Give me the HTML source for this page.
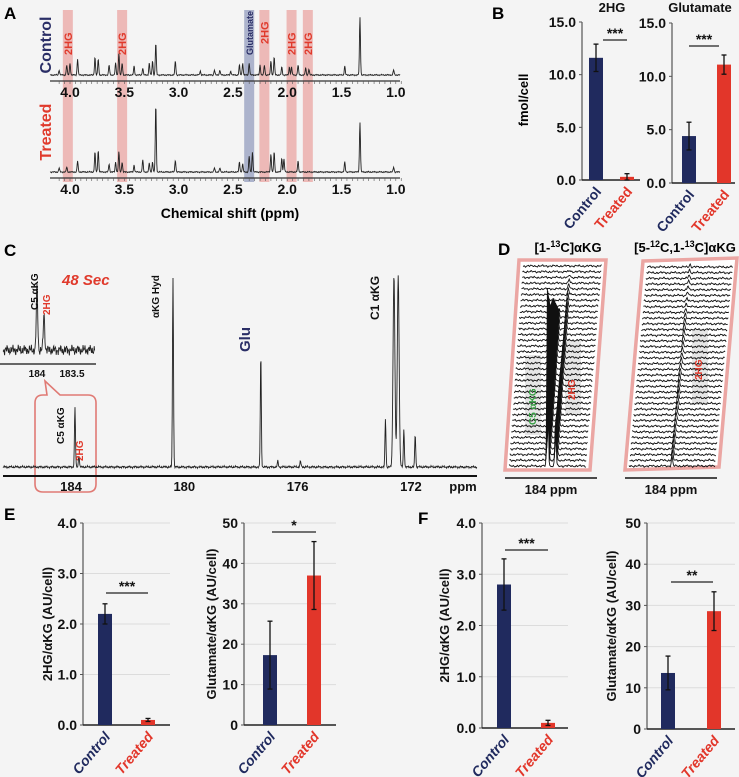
<!DOCTYPE html>
<html><head><meta charset="utf-8"><style>
body{margin:0;background:#f4f4f4}
svg{display:block;font-family:"Liberation Sans",sans-serif;font-weight:bold}
.t{font-size:13px;fill:#111}
</style></head><body>
<svg id="fig" width="739" height="777" viewBox="0 0 739 777">
<rect width="739" height="777" fill="#f4f4f4"/>
<g id="panelA">
 <text x="4" y="19" font-size="17">A</text>
 <g id="bandsA"></g>
 <text transform="translate(51,45) rotate(-90)" text-anchor="middle" font-size="16" fill="#2a2e66">Control</text>
 <text transform="translate(51,132) rotate(-90)" text-anchor="middle" font-size="16" fill="#e03a2c">Treated</text>
 <g id="specA"></g>
 <text x="230" y="218" text-anchor="middle" font-size="14">Chemical shift (ppm)</text>
</g>
<g id="panelB">
 <text x="492" y="19" font-size="17">B</text>
 <text transform="translate(528,100) rotate(-90)" text-anchor="middle" font-size="13">fmol/cell</text>
</g>
<g id="panelC">
 <text x="4" y="256" font-size="17">C</text>
 <text x="62" y="285" font-size="15" font-style="italic" fill="#e03a2c">48 Sec</text>
 <path d="M45,381 L60,395 L88,395 Q96,395 96,403 L96,484 Q96,492 88,492 L43,492 Q35,492 35,484 L35,403 Q35,395 43,395 L47,395 Z" fill="none" stroke="#e07a74" stroke-width="1.6"/>
 <g id="specC"></g>
</g>
<g id="panelD">
 <text x="498" y="255" font-size="17">D</text>
 <text x="568" y="252" text-anchor="middle" font-size="13">[1-<tspan font-size="9" dy="-5">13</tspan><tspan dy="5">C]αKG</tspan></text>
 <text x="685" y="252" text-anchor="middle" font-size="13">[5-<tspan font-size="9" dy="-5">12</tspan><tspan dy="5">C,1-</tspan><tspan font-size="9" dy="-5">13</tspan><tspan dy="5">C]αKG</tspan></text>
 <g id="specD"></g>
 <line x1="505" y1="478" x2="597" y2="478" stroke="#111" stroke-width="1.5"/>
 <line x1="625" y1="478" x2="717" y2="478" stroke="#111" stroke-width="1.5"/>
 <text x="551" y="494" text-anchor="middle" class="t">184 ppm</text>
 <text x="671" y="494" text-anchor="middle" class="t">184 ppm</text>
</g>
<text x="4" y="520" font-size="17">E</text>
<text x="418" y="524" font-size="17">F</text>
<g id="bars"></g>
</svg>
<script>
// ---- bar chart data ----
const bCategories=["Control","Treated"];
const b2hgValues=[11.6,0.3], b2hgErr=[1.3,0.3];
const bGluValues=[4.4,11.1], bGluErr=[1.3,0.9];
const bTicks=[0,5,10,15];
const e2hgValues=[2.2,0.1], e2hgErr=[0.2,0.03];
const eGluValues=[17.3,37.0], eGluErr=[8.4,8.4];
const f2hgValues=[2.8,0.1], f2hgErr=[0.5,0.05];
const fGluValues=[13.6,28.6], fGluErr=[4.1,4.7];
const ratioTicks=[0,1,2,3,4];
const gluTicks=[0,10,20,30,40,50];
// spectra peak lists [ppm, height]
const ctrlPeaks=[[4.1,5],[4.03,10],[4.0,12],[3.93,16],[3.77,18],[3.74,16],[3.64,10],[3.58,12],[3.55,22],[3.52,12],[3.41,9],[3.33,7],[3.27,12],[3.24,14],[3.21,32],[3.03,14],[2.8,4],[2.67,5],[2.62,5],[2.52,4],[2.44,10],[2.41,12],[2.35,12],[2.25,10],[2.21,10],[2.15,14],[2.12,18],[2.05,8],[1.98,8],[1.96,8],[1.9,10],[1.83,7],[1.8,6],[1.47,9],[1.33,58],[1.02,5]];
const trtPeaks=[[4.1,4],[4.03,5],[3.93,11],[3.77,20],[3.74,22],[3.64,8],[3.58,10],[3.55,20],[3.52,10],[3.41,7],[3.33,12],[3.27,9],[3.24,10],[3.21,68],[3.03,12],[2.67,4],[2.62,4],[2.44,10],[2.41,8],[2.35,16],[2.32,20],[2.15,18],[2.12,20],[2.05,14],[2.03,13],[1.9,11],[1.47,10],[1.33,50],[1.02,5]];
const cPeaks=[[183.86,60],[183.72,12],[180.4,190],[177.3,113],[172.9,48],[172.6,192],[172.45,192],[172.25,38],[171.85,33],[176.7,6],[175.9,6]];
const insetPeaks=[[184.0,64],[183.9,36]];

const NS="http://www.w3.org/2000/svg";
function mk(tag,attrs,parent){const e=document.createElementNS(NS,tag);for(const k in attrs)e.setAttribute(k,attrs[k]);parent.appendChild(e);return e;}
function wig(i,s){return Math.sin(i*1.7+s)*0.6+Math.sin(i*0.53+s*2)*0.5+Math.sin(i*3.1+s)*0.4;}
function gau(dx,w){const u=dx/w;return Math.exp(-u*u);}

// ---- Panel A ----
const ax=p=>70+(4.0-p)*108.6;
const bandsA=document.getElementById('bandsA');
const redBands=[4.02,3.52,2.21,1.96,1.81];
redBands.forEach((p,i)=>{const r=mk('rect',{x:ax(p)-5,y:10,width:10,height:172,fill:'#eba6a3',opacity:0.75},bandsA);


const t=mk('text',{transform:`translate(${ax(p)+4},${i==2?44:55}) rotate(-90)`,'font-size':11,fill:'#e03a2c'},bandsA);t.textContent='2HG';});
const gb=mk('rect',{x:ax(2.35)-5,y:10,width:10,height:172,fill:'#9aa3c2',opacity:0.8},bandsA);


const gt=mk('text',{transform:`translate(${ax(2.35)+4},55) rotate(-90)`,'font-size':9,fill:'#2a2e66'},bandsA);gt.textContent='Glutamate';
const specA=document.getElementById('specA');
function drawSpec(peaks,base,xf,x0,x1,g,w,seed,amp,wf){let d='';for(let x=x0;x<=x1;x+=0.4){let y=base+wig(x*2,seed)*amp;peaks.forEach(([p,h])=>{const ww=wf?wf(p):w;y-=h*gau(x-xf(p),ww);});d+=(d?'L':'M')+x.toFixed(1)+','+y.toFixed(1);}return mk('path',{d,fill:'none',stroke:'#222','stroke-width':0.9},g);}
function axisA(y){mk('line',{x1:50,y1:y,x2:400,y2:y,stroke:'#333','stroke-width':1.2},specA);
for(let p=4.1;p>=0.95;p-=0.05){const x=ax(p);mk('line',{x1:x,y1:y,x2:x,y2:y+3,stroke:'#555','stroke-width':0.6},specA);}
[4.0,3.5,3.0,2.5,2.0,1.5,1.0].forEach(p=>{const t=mk('text',{x:ax(p),y:y+16,'text-anchor':'middle','font-size':14,fill:'#111'},specA);t.textContent=p.toFixed(1);});}
const pa=drawSpec(ctrlPeaks,75,ax,50,400,specA,0.7,1,0.5);


axisA(81);
const pb=drawSpec(trtPeaks,172,ax,50,400,specA,0.7,2,0.5);


axisA(178);

// ---- Panel C ----
const cx=p=>71+(184-p)*28.33;
const specC=document.getElementById('specC');
const pc=drawSpec(cPeaks,467,cx,3,477,specC,0.7,3,0.9,p=>(p>172.3&&p<172.7)?1.3:0.7);


mk('line',{x1:3,y1:476,x2:477,y2:476,stroke:'#111','stroke-width':2},specC);
[[184,'184'],[180,'180'],[176,'176'],[172,'172']].forEach(([p,l])=>{const t=mk('text',{x:cx(p),y:491,'text-anchor':'middle',class:'t'},specC);t.textContent=l;});
const ppl=mk('text',{x:463,y:491,'text-anchor':'middle',class:'t'},specC);ppl.textContent='ppm';
const ix=p=>37+(184-p)*70;
const pin=drawSpec(insetPeaks,350,ix,3,95,specC,1.0,5,4);


mk('line',{x1:0,y1:364,x2:96,y2:364,stroke:'#111','stroke-width':1.2},specC);
[[184,'184'],[183.5,'183.5']].forEach(([p,l])=>{const t=mk('text',{x:ix(p),y:377,'text-anchor':'middle','font-size':10,fill:'#111'},specC);t.textContent=l;});
function rl(x,y,s,fs,fill){const t=mk('text',{transform:`translate(${x},${y}) rotate(-90)`,'font-size':fs,fill},specC);t.textContent=s;return t;}
rl(38,310,'C5 αKG',10,'#111');rl(50,315,'2HG',10,'#e03a2c');
rl(159,318,'αKG Hyd',10,'#111');rl(250,352,'Glu',15,'#2a2e66');rl(379,320,'C1 αKG',12,'#111');
rl(64,444,'C5 αKG',10,'#111');rl(83,461,'2HG',10,'#e03a2c');

// ---- Panel D ----
const specD=document.getElementById('specD');
function boxD(tl,tr,br,bl,n,peakFn,name,labels){
 const poly=mk('polygon',{points:[tl,tr,br,bl].map(p=>p.join(',')).join(' '),fill:'#fff',stroke:'#eba6a3','stroke-width':3.5},specD);
 
 
 labels.forEach(([x,y,h])=>mk('rect',{x:x-10,y:y,width:16,height:h,fill:'#e6e6e6'},specD));
 for(let i=0;i<n;i++){const f=i/(n-1);const y=tl[1]+6+f*(bl[1]-tl[1]-10);const xa=tl[0]+(bl[0]-tl[0])*f+4,xb=tr[0]+(br[0]-tr[0])*f-4;
  const pk=xa+(xb-xa)*0.5;let d='';for(let x=xa;x<=xb;x+=0.6){let yy=y+wig(x+i*7,i)*0.9;yy-=peakFn(i,f,x-pk);d+=(d?'L':'M')+x.toFixed(1)+','+yy.toFixed(1);}
  mk('path',{d,fill:'none',stroke:'#111','stroke-width':0.9},specD);}
}
boxD([519,260],[606,260],[590,470],[505,470],36,(i,f,dx)=>{const a=Math.max(0,230*f-50);const b=Math.max(0,45*f);return a*gau(dx,0.9)+b*gau(dx-8,0.9);},'box-1-13c',[[535,355,80],[575,340,75]]);
boxD([643,261],[737,258],[719,467],[625,470],36,(i,f,dx)=>{const b=3+f*7;return b*gau(dx,0.9);},'box-5-12c',[[702,330,75]]);
[[536,425,'C5 αKG','#3aa047'],[575,400,'2HG','#e03a2c'],[702,380,'2HG','#e03a2c']].forEach(([x,y,s,c])=>{const t=mk('text',{transform:`translate(${x},${y}) rotate(-90)`,'font-size':10,fill:c},specD);t.textContent=s;});

// ---- Bar charts ----
const G=document.getElementById('bars');
const NAVY='#202a5e',RED='#e2362a';
function chart(o){
 const g=mk('g',{},G);
 
 
 const y=v=>o.y0-(v/o.max)*(o.y0-o.yTop);
 if(o.grid)o.ticks.forEach(v=>{if(v>0)mk('line',{x1:o.ax,y1:y(v),x2:o.xEnd,y2:y(v),stroke:'#dcdcdc','stroke-width':1},g);});
 mk('line',{x1:o.ax,y1:o.yTop,x2:o.ax,y2:o.y0,stroke:'#555','stroke-width':1.2},g);
 mk('line',{x1:o.ax,y1:o.y0,x2:o.xEnd,y2:o.y0,stroke:'#222','stroke-width':1.6},g);
 o.ticks.forEach(v=>{mk('line',{x1:o.ax-3,y1:y(v),x2:o.ax,y2:y(v),stroke:'#555'},g);
  const t=mk('text',{x:o.ax-6,y:y(v)+5,'text-anchor':'end','font-size':14,fill:'#111'},g);t.textContent=o.fmt(v);});
 o.vals.forEach((v,i)=>{const cx=o.xs[i];
  const r=mk('rect',{x:cx-7,y:y(v),width:14,height:o.y0-y(v),fill:i?RED:NAVY},g);
  
  
  const e=o.err[i];mk('line',{x1:cx,y1:y(v+e),x2:cx,y2:y(Math.max(0,v-e)),stroke:'#111','stroke-width':1.3},g);
  mk('line',{x1:cx-2.5,y1:y(v+e),x2:cx+2.5,y2:y(v+e),stroke:'#111','stroke-width':1.3},g);
  mk('line',{x1:cx-2.5,y1:y(Math.max(0,v-e)),x2:cx+2.5,y2:y(Math.max(0,v-e)),stroke:'#111','stroke-width':1.3},g);
  const lb=mk('text',{transform:`translate(${cx+6},${o.y0+12}) rotate(-50)`,'text-anchor':'end','font-size':14,fill:i?RED:NAVY,'font-style':o.ital?'italic':'normal'},g);lb.textContent=bCategories[i];});
 mk('line',{x1:o.sig[0],y1:o.sig[2],x2:o.sig[1],y2:o.sig[2],stroke:'#222','stroke-width':1.2},g);
 const st=mk('text',{x:(o.sig[0]+o.sig[1])/2,y:o.sig[2]-2,'text-anchor':'middle','font-size':14,fill:'#111'},g);st.textContent=o.stars;
 if(o.title){const t=mk('text',{x:o.tx,y:o.tyT,'text-anchor':'middle','font-size':13,fill:'#111'},g);t.textContent=o.title;}
 if(o.ytitle){const t=mk('text',{transform:`translate(${o.ytx},${(o.y0+o.yTop)/2}) rotate(-90)`,'text-anchor':'middle','font-size':13,fill:'#111'},g);t.textContent=o.ytitle;}
}
const f1=v=>v.toFixed(1),f0=v=>String(v);
chart({name:'chart-b-2hg',vals:b2hgValues,err:b2hgErr,ticks:bTicks,max:15,ax:582,xEnd:640,y0:180,yTop:22,xs:[596,627],fmt:f1,sig:[603,627,40],stars:'***',title:'2HG',tx:612,tyT:12});
chart({name:'chart-b-glutamate',vals:bGluValues,err:bGluErr,ticks:bTicks,max:15,ax:672,xEnd:735,y0:183,yTop:23,xs:[689,724],fmt:f1,sig:[689,719,46],stars:'***',title:'Glutamate',tx:700,tyT:12});
chart({name:'chart-e-2hg',vals:e2hgValues,err:e2hgErr,ticks:ratioTicks,max:4,ax:83,xEnd:170,y0:725,yTop:523,xs:[105,148],fmt:f1,sig:[106,148,593],stars:'***',grid:1,ital:1,ytitle:'2HG/αKG (AU/cell)',ytx:52});
chart({name:'chart-e-glutamate',vals:eGluValues,err:eGluErr,ticks:gluTicks,max:50,ax:244,xEnd:336,y0:725,yTop:523,xs:[270,314],fmt:f0,sig:[272,316,532],stars:'*',grid:1,ital:1,ytitle:'Glutamate/αKG (AU/cell)',ytx:216});
chart({name:'chart-f-2hg',vals:f2hgValues,err:f2hgErr,ticks:ratioTicks,max:4,ax:482,xEnd:568,y0:728,yTop:523,xs:[504,548],fmt:f1,sig:[505,548,550],stars:'***',grid:1,ital:1,ytitle:'2HG/αKG (AU/cell)',ytx:449});
chart({name:'chart-f-glutamate',vals:fGluValues,err:fGluErr,ticks:gluTicks,max:50,ax:647,xEnd:735,y0:729,yTop:523,xs:[668,714],fmt:f0,sig:[671,713,582],stars:'**',grid:1,ital:1,ytitle:'Glutamate/αKG (AU/cell)',ytx:616});
</script>
</body></html>
